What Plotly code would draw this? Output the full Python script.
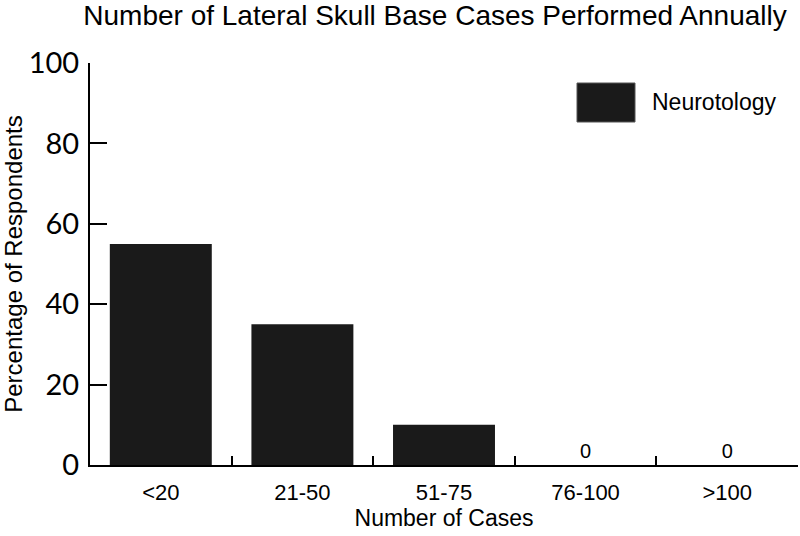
import plotly.graph_objects as go

categories = ["<20", "21-50", "51-75", "76-100", ">100"]
percent = [55, 35, 10, 0, 0]
zero_labels = ["" if v else "0" for v in percent]

fig = go.Figure()

fig.add_trace(go.Bar(
    x=categories, y=percent,
    marker=dict(color="#1a1a1a", line=dict(width=0)),
    text=zero_labels, textposition="outside",
    textfont=dict(family="Liberation Sans", size=20, color="black"),
    cliponaxis=False,
    name="Neurotology", showlegend=False,
))

# legend box drawn by hand (plotly legend swatch is too small)
fig.add_shape(type="rect", xref="paper", yref="paper",
              x0=(577 - 90) / 708, x1=(635 - 90) / 708,
              y0=(465 - 122) / 402, y1=(465 - 83) / 402,
              fillcolor="#1a1a1a", line=dict(color="#555555", width=1))
fig.add_annotation(text="Neurotology", xref="paper", yref="paper",
                   x=(650 - 90) / 708, y=(465 - 102) / 402,
                   xanchor="left", yanchor="middle", showarrow=False,
                   font=dict(family="Liberation Sans", size=23, color="black"))

fig.update_layout(
    width=800, height=536,
    margin=dict(l=90, r=2, t=63, b=71),
    plot_bgcolor="white", paper_bgcolor="white",
    bargap=0.28,
    title=dict(text="Number of Lateral Skull Base Cases Performed Annually",
               x=435 / 800, xref="container", xanchor="center",
               y=1 - 15 / 536, yref="container", yanchor="middle",
               font=dict(family="Liberation Sans", size=28, color="black")),
    xaxis=dict(
        automargin=False,
        showline=True, linecolor="black", linewidth=2,
        ticks="inside", tickson="boundaries", ticklen=9, tickwidth=2, tickcolor="black",
        tickfont=dict(family="Liberation Sans", size=22, color="black"),
        ticklabelstandoff=7,
        title=dict(text="Number of Cases", standoff=4,
                   font=dict(family="Liberation Sans", size=23, color="black")),
        showgrid=False,
    ),
    yaxis=dict(
        automargin=False,
        range=[0, 100], tickvals=[0, 20, 40, 60, 80, 100],
        showline=True, linecolor="black", linewidth=2,
        ticks="inside", ticklen=17, tickwidth=2, tickcolor="black",
        tickfont=dict(family="Lato", size=29, color="black"),
        ticklabelstandoff=3,
        title=dict(text="Percentage of Respondents", standoff=9,
                   font=dict(family="Liberation Sans", size=24, color="black")),
        showgrid=False, zeroline=False,
    ),
)

# drop the browser's default 8px body margin so the figure sits at 0,0
fig.write_html("out.html", config={"displayModeBar": False},
               post_script="document.body.style.margin='0px';")
